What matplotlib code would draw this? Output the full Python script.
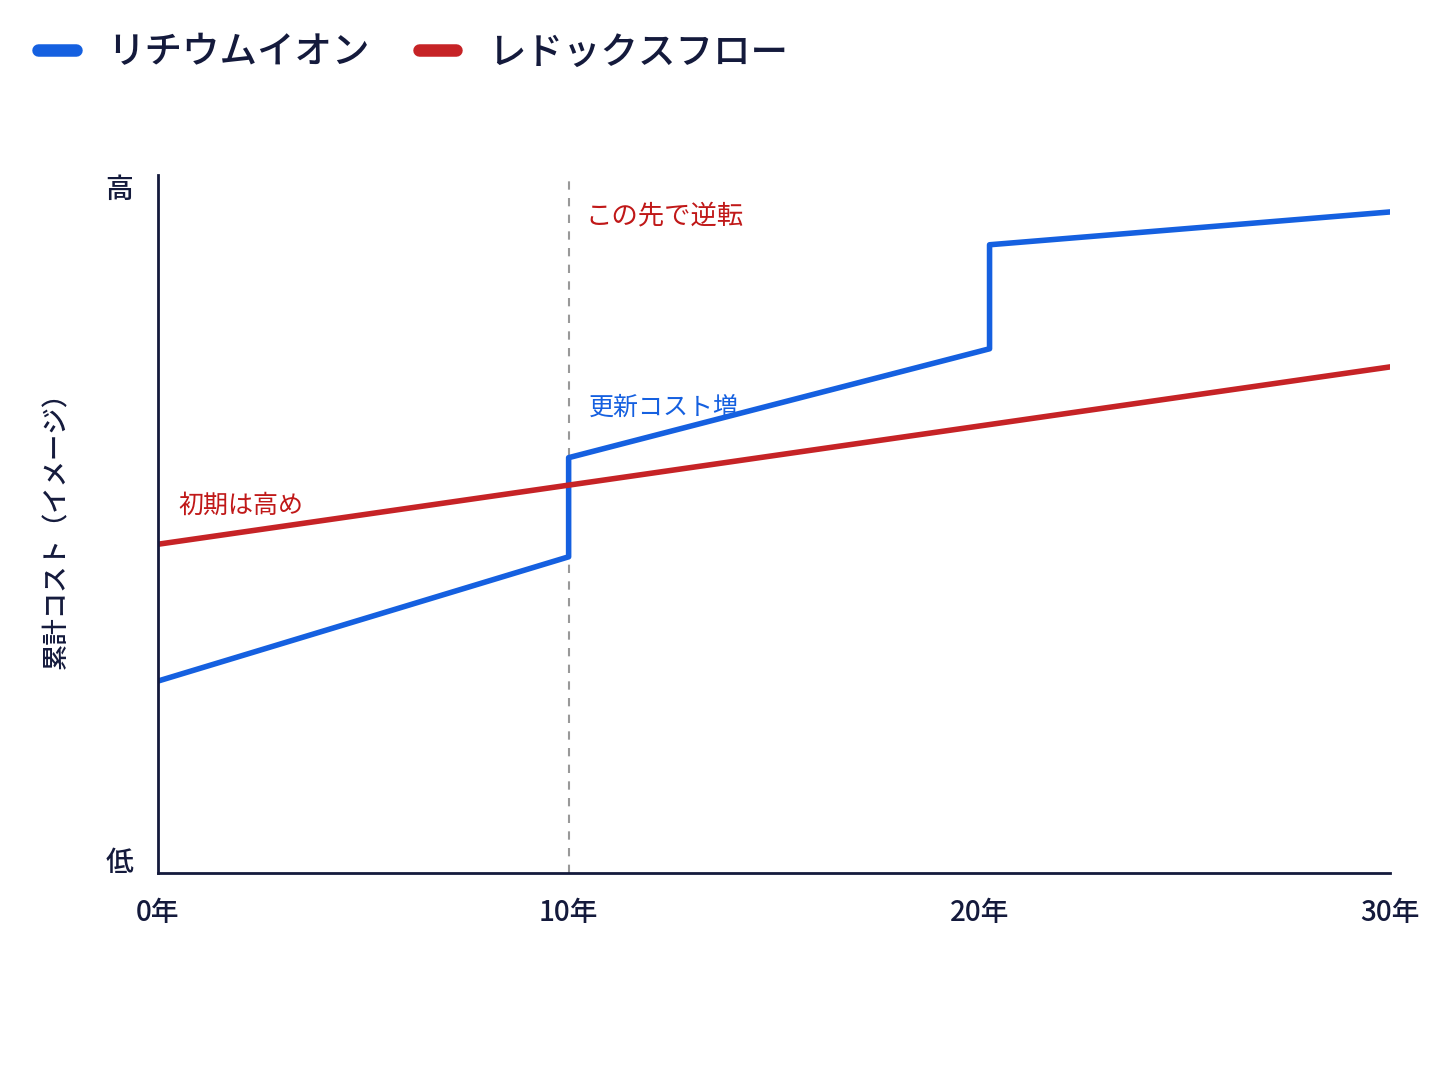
import matplotlib
matplotlib.use('Agg')
import matplotlib.pyplot as plt

plt.rcParams['font.family'] = ['Noto Sans CJK JP', 'DejaVu Sans']

# data (image units, 0 = low, 100 = high)
li_x = [0, 10, 10, 20.25, 20.25, 30]
li_y = [27.5, 45.3, 59.5, 75.1, 90.0, 94.7]
rf_x = [0, 30]
rf_y = [47.1, 72.5]
x_ticks = [0, 10, 20, 30]
x_labels = ['0年', '10年', '20年', '30年']
y_ticks = [1.9, 98.3]
y_labels = ['低', '高']
series_names = ['リチウムイオン', 'レドックスフロー']

navy = '#141a3c'
blue = '#1560e0'
red = '#c62326'
red_txt = '#c01818'

fig = plt.figure(figsize=(14.48, 10.86), dpi=100)
ax = fig.add_axes([0.1091, 0.1961, 0.8508, 0.6428])

ax.plot(li_x, li_y, color=blue, lw=4, label=series_names[0])
ax.plot(rf_x, rf_y, color=red, lw=4, label=series_names[1])
ax.axvline(10, color='#999999', lw=1.5, ls=(0, (4, 4)), zorder=0)

ax.set_xlim(0, 30)
ax.set_ylim(0, 100)
ax.set_xticks(x_ticks)
ax.set_xticklabels(x_labels)
ax.set_yticks(y_ticks)
ax.set_yticklabels(y_labels)
ax.tick_params(length=0, labelsize=20, colors=navy)
ax.tick_params(axis='x', pad=18)
ax.tick_params(axis='y', pad=18)
for lbl in ax.get_xticklabels() + ax.get_yticklabels():
    lbl.set_fontweight('medium')
for s in ['top', 'right']:
    ax.spines[s].set_visible(False)
for s in ['left', 'bottom']:
    ax.spines[s].set_color(navy)
    ax.spines[s].set_linewidth(2)

ax.set_ylabel('累計コスト（イメージ）', fontsize=19, color=navy, labelpad=25,
              fontweight='medium')

ax.text(10.4, 94.2, 'この先で逆転', color=red_txt, fontsize=19, va='center')
ax.text(10.5, 66.6, '更新コスト増', color=blue, fontsize=18, va='center')
ax.text(0.5, 52.6, '初期は高め', color=red_txt, fontsize=18, va='center')

leg = fig.legend(loc='upper left', bbox_to_anchor=(0.016, 0.983), ncol=2, frameon=False,
                 prop={'size': 27, 'weight': 'medium'}, handlelength=1.0,
                 handletextpad=0.85, columnspacing=1.3, labelcolor=navy,
                 borderaxespad=0)
for h in leg.legend_handles:
    h.set_linewidth(9)
    h.set_solid_capstyle('round')

fig.savefig('out.png', dpi=100, facecolor='white')
